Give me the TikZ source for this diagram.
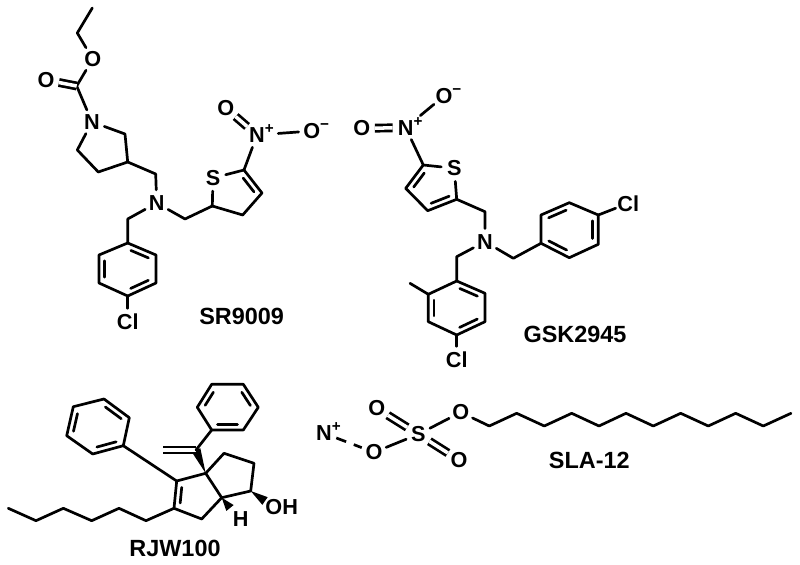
\documentclass[tikz,border=0pt]{standalone}
\usepackage{fontspec}
\setmainfont{Liberation Sans}
\usetikzlibrary{calc}
\tikzset{
  bond line/.style={draw, line width=2.3pt, line cap=round, line join=round},
  double line/.style={bond line, double, double distance=3pt, line cap=butt},
  dash line/.style={bond line, line cap=butt, dash pattern=on 9pt off 7pt},
  atom/.style={circle, inner sep=0pt, minimum size=22pt,
    font=\fontsize{18.5}{18.5}\selectfont\bfseries},
  name tag/.style={inner sep=0pt, font=\fontsize{20}{20}\selectfont\bfseries},
}
\newcommand{\charge}[1]{\rlap{\smash{\raisebox{.42em}{\fontsize{13}{13}\selectfont #1}}}}
% second line of a ring double bond, on the left of a->b
\newcommand{\innerbond}[2]{
    \draw[bond line, shorten <=5pt, shorten >=5pt]
        ($(#1)!4.8pt!90:(#2)$) -- ($(#2)!4.8pt!-90:(#1)$);
}
\newcommand{\wedgebond}[2]{
    \fill ($(#1)$) -- ($(#2)!4pt!90:(#1)$) -- ($(#2)!4pt!-90:(#1)$) -- cycle;
}
\begin{document}
\begin{tikzpicture}[x=0.03cm, y=-0.03cm]
    \useasboundingbox (0,0) rectangle (800,565);

    % SR9009
    \foreach \n/\x/\y in {me/92.3/8, et/77.3/33, co/76.7/86, r2/125/134, r3/127.7/162,
        r4/98.3/172, r5/77.3/150, mb/155.7/174, mc/127.7/219, md/185/219,
        a1/127.7/243, a2/99/255, a3/99/283, a4/127.7/296, a5/156/283, a6/156/255,
        t2/244/170, t3/262/193, t4/242.7/215, t5/212.3/206}
        {\coordinate (sr\n) at (\x,\y);}
    \node[atom] (srOe) at (92.7,59) {O};
    \node[atom] (srOc) at (46,80) {O};
    \node[atom] (srNr) at (92,122) {N};
    \node[atom] (srNa) at (156.7,203) {N};
    \node[atom] (srCl) at (127.7,322) {Cl};
    \node[atom] (srS) at (213,178) {S};
    \node[atom] (srNp) at (257,135) {N\charge{+}};
    \node[atom] (srOd) at (225.7,108) {O};
    \node[atom] (srOm) at (311.7,131) {O\charge{−}};
    \node[name tag] (srname) at (241.7,316) {SR9009};
    \draw[bond line] (srme) -- (sret) -- (srOe);
    \draw[bond line] (srOe) -- (srco) -- (srNr);
    \draw[double line] (srco) -- (srOc);
    \draw[bond line] (srNr) -- (srr2) -- (srr3) -- (srr4) -- (srr5) -- (srNr);
    \draw[bond line] (srr3) -- (srmb) -- (srNa);
    \draw[bond line] (srNa) -- (srmc) -- (sra1);
    \draw[bond line] (sra1) -- (sra2) -- (sra3) -- (sra4) -- (sra5) -- (sra6) -- cycle;
    \innerbond{sra2}{sra3}
    \innerbond{sra4}{sra5}
    \innerbond{sra6}{sra1}
    \draw[bond line] (sra4) -- (srCl);
    \draw[bond line] (srNa) -- (srmd) -- (srt5) -- (srS);
    \draw[bond line] (srS) -- (srt2) -- (srt3) -- (srt4) -- (srt5);
    \innerbond{srt3}{srt2}
    \draw[bond line] (srt2) -- (srNp);
    \draw[double line] (srNp) -- (srOd);
    \draw[bond line, shorten <=7pt] (srNp) -- (srOm);

    % GSK2945
    \foreach \n/\x/\y in {t5/423.3/165, t2/456.7/199.3, t3/427.7/210.7, t4/405.7/188.3,
        mb/485/211.7, md/513.3/258.3, mc/456.7/256.7,
        a1/569.3/202.7, a2/541/215, a3/541/243.3, a4/569.3/257.7, a5/598.3/244.3, a6/598.3/215,
        b1/456.7/281, b2/428.3/294.3, b3/428.3/321.7, b4/456.7/335, b5/485/321.7, b6/485/293.3,
        me/410/283.3}
        {\coordinate (gs\n) at (\x,\y);}
    \node[atom] (gsOm) at (444,96) {O\charge{−}};
    \node[atom] (gsNp) at (405.7,127.7) {N\charge{+}};
    \node[atom] (gsOd) at (361.7,128.3) {O};
    \node[atom] (gsS) at (454.3,168.3) {S};
    \node[atom] (gsNa) at (485,241.7) {N};
    \node[atom] (gsCla) at (628.3,203.3) {Cl};
    \node[atom] (gsClb) at (456.7,360) {Cl};
    \node[name tag] (gsname) at (575,334.3) {GSK2945};
    \draw[bond line, shorten <=5pt] (gsNp) -- (gsOm);
    \draw[double line] (gsNp) -- (gsOd);
    \draw[bond line] (gsNp) -- (gst5) -- (gsS);
    \draw[bond line] (gsS) -- (gst2) -- (gst3) -- (gst4) -- (gst5);
    \innerbond{gst5}{gst4}
    \innerbond{gst3}{gst2}
    \draw[bond line] (gst2) -- (gsmb) -- (gsNa);
    \draw[bond line] (gsNa) -- (gsmd) -- (gsa3);
    \draw[bond line] (gsa1) -- (gsa2) -- (gsa3) -- (gsa4) -- (gsa5) -- (gsa6) -- cycle;
    \innerbond{gsa1}{gsa2}
    \innerbond{gsa3}{gsa4}
    \innerbond{gsa5}{gsa6}
    \draw[bond line] (gsa6) -- (gsCla);
    \draw[bond line] (gsNa) -- (gsmc) -- (gsb1);
    \draw[bond line] (gsb1) -- (gsb2) -- (gsb3) -- (gsb4) -- (gsb5) -- (gsb6) -- cycle;
    \innerbond{gsb2}{gsb3}
    \innerbond{gsb4}{gsb5}
    \innerbond{gsb6}{gsb1}
    \draw[bond line] (gsb2) -- (gsme);
    \draw[bond line] (gsb4) -- (gsClb);

    % RJW100
    \foreach \n/\x/\y in {h1/8.3/508.3, h2/36/520.7, h3/63.3/508.3, h4/91.7/520.7,
        h5/119/508.3, h6/146/520.7, cb/174/508.3, ct/176.7/481, cq/205.7/473.3,
        cj/221.7/497.7, cm/201.7/519, c1/224/453.3, c2/254/463.3, c3/250.7/491,
        wo/265/501, wh/230/508, vc/196/450, ve/162.7/450,
        a1/211.7/430, a2/243.3/430, a3/258.3/407.3, a4/243.3/384.3, a5/211.7/384.3, a6/197.3/407.3,
        b1/123.3/445.7, b2/92.7/454, b3/66.7/435.7, b4/73.3/406.7, b5/104/399, b6/129.3/417.7}
        {\coordinate (rj\n) at (\x,\y);}
    \node[atom] (rjOH) at (281.7,507.3) {OH};
    \node[atom] (rjH) at (240.7,519) {H};
    \node[name tag] (rjname) at (175,548.3) {RJW100};
    \draw[bond line] (rjh1) -- (rjh2) -- (rjh3) -- (rjh4) -- (rjh5) -- (rjh6) -- (rjcb);
    \draw[bond line] (rjcb) -- (rjct) -- (rjcq) -- (rjcj) -- (rjcm) -- (rjcb);
    \innerbond{rjct}{rjcb}
    \draw[bond line] (rjcq) -- (rjc1) -- (rjc2) -- (rjc3) -- (rjcj);
    \wedgebond{rjc3}{rjwo}
    \wedgebond{rjcj}{rjwh}
    \wedgebond{rjcq}{rjvc}
    \draw[double line] (rjvc) -- (rjve);
    \draw[bond line] (rjvc) -- (rja1);
    \draw[bond line] (rja1) -- (rja2) -- (rja3) -- (rja4) -- (rja5) -- (rja6) -- cycle;
    \innerbond{rja1}{rja2}
    \innerbond{rja3}{rja4}
    \innerbond{rja5}{rja6}
    \draw[bond line] (rjct) -- (rjb1);
    \draw[bond line] (rjb1) -- (rjb2) -- (rjb3) -- (rjb4) -- (rjb5) -- (rjb6) -- cycle;
    \innerbond{rjb2}{rjb1}
    \innerbond{rjb4}{rjb3}
    \innerbond{rjb6}{rjb5}

    % SLA-12
    \foreach \n/\x/\y in {1/489.3/426, 2/516.7/413.3, 3/544.3/426, 4/571.7/413.3,
        5/599/426, 6/626/413.3, 7/653.3/426, 8/680.7/413.3, 9/708.3/426,
        10/735.7/413.3, 11/763.3/426, 12/791/413.3}
        {\coordinate (sl\n) at (\x,\y);}
    \node[atom] (slN) at (324,433.3) {N\charge{+}};
    \node[atom] (slOa) at (374,452.3) {O};
    \node[atom] (slS) at (418.3,434.3) {S};
    \node[atom] (slOb) at (376.7,408.3) {O};
    \node[atom] (slOc) at (459,460) {O};
    \node[atom] (slOd) at (460.7,412.3) {O};
    \node[name tag] (slname) at (589.3,460) {SLA-12};
    \draw[dash line] (slN) -- (slOa);
    \draw[bond line] (slOa) -- (slS) -- (slOd) -- (sl1) -- (sl2) -- (sl3) -- (sl4) -- (sl5)
        -- (sl6) -- (sl7) -- (sl8) -- (sl9) -- (sl10) -- (sl11) -- (sl12);
    \draw[double line] (slS) -- (slOb);
    \draw[double line] (slS) -- (slOc);
\end{tikzpicture}
\end{document}
